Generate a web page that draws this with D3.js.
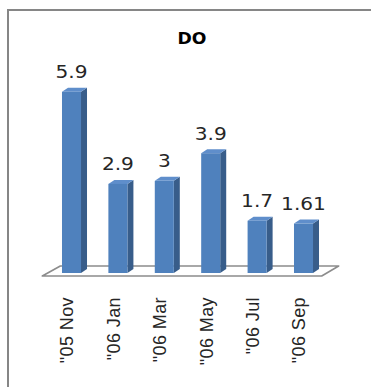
<!DOCTYPE html>
<html>
<head>
<meta charset="utf-8">
<script src="https://cdn.jsdelivr.net/npm/d3@7"></script>
<style>
  html, body { margin: 0; padding: 0; background: #fff; }
  svg { display: block; }
</style>
</head>
<body>
<svg id="chart" width="371" height="387"></svg>
<script>
// DO readings by sampling month
const categories = ['"05 Nov', '"06 Jan', '"06 Mar', '"06 May', '"06 Jul', '"06 Sep'];
const values = [5.9, 2.9, 3, 3.9, 1.7, 1.61];
const valueLabels = ["5.9", "2.9", "3", "3.9", "1.7", "1.61"];
const title = "DO";

const svg = d3.select("#chart");
const W = 371, H = 387;

// frame: top and left rules only
svg.append("line").attr("x1", 8).attr("y1", 10).attr("x2", W).attr("y2", 10)
  .attr("stroke", "#868686").attr("stroke-width", 2);
svg.append("line").attr("x1", 8).attr("y1", 9).attr("x2", 8).attr("y2", H)
  .attr("stroke", "#868686").attr("stroke-width", 2);

const x = d3.scaleBand().domain(categories).range([48.3, 326.7])
  .paddingInner(0.59).paddingOuter(0.295);
const y = d3.scaleLinear().domain([0, 7]).range([273, 58]);

const depthX = 6, depthY = 4;
const [r0, r1] = x.range();
const yFront = 276, yBack = 266;

// floor
svg.append("path")
  .attr("d", `M${r0 - 6},${yFront} L${r1 - 5},${yFront} L${r1 + 12},${yBack} L${r0 + 12},${yBack} Z`)
  .attr("fill", "#fff").attr("stroke", "#8c8c8c").attr("stroke-width", 1.6)
  .attr("stroke-linejoin", "round");

const bw = x.bandwidth();
const bars = svg.append("g").selectAll("g").data(categories).join("g");

// side face
bars.append("path")
  .attr("d", (d, i) => {
    const x1 = x(d) + bw, yt = y(values[i]), yb = y(0);
    return `M${x1},${yt} L${x1 + depthX},${yt - depthY} L${x1 + depthX},${yb - depthY} L${x1},${yb} Z`;
  })
  .attr("fill", "#385d8a");

// top face
bars.append("path")
  .attr("d", (d, i) => {
    const x0 = x(d), yt = y(values[i]);
    return `M${x0},${yt} L${x0 + depthX},${yt - depthY} L${x0 + bw + depthX},${yt - depthY} L${x0 + bw},${yt} Z`;
  })
  .attr("fill", "#5f8ecb");

// front face
bars.append("rect")
  .attr("x", d => x(d))
  .attr("y", (d, i) => y(values[i]))
  .attr("width", bw)
  .attr("height", (d, i) => y(0) - y(values[i]))
  .attr("fill", "#4f81bd");

// value labels
bars.append("text")
  .attr("transform", (d, i) => `translate(${x(d) + bw / 2},${y(values[i]) - 13.5}) scale(1.15,1)`)
  .attr("text-anchor", "middle")
  .attr("font-family", "DejaVu Sans, Verdana, sans-serif")
  .attr("font-size", 17.5)
  .attr("fill", "#262626")
  .text((d, i) => valueLabels[i]);

// category labels, rotated
svg.append("g").selectAll("text").data(categories).join("text")
  .attr("transform", d => `translate(${x(d) + bw / 2 - 4.5},297) rotate(-90)`)
  .attr("text-anchor", "end")
  .attr("dy", "0.35em")
  .attr("font-family", "Liberation Sans, Arial, sans-serif")
  .attr("font-size", 18)
  .attr("letter-spacing", 0.4)
  .attr("fill", "#262626")
  .text(d => d);

// title
svg.append("text")
  .attr("transform", "translate(192,44) scale(1.15,1)")
  .attr("text-anchor", "middle")
  .attr("font-family", "DejaVu Sans, Verdana, sans-serif")
  .attr("font-weight", "bold")
  .attr("font-size", 15)
  .attr("fill", "#000")
  .text(title);
</script>
</body>
</html>
